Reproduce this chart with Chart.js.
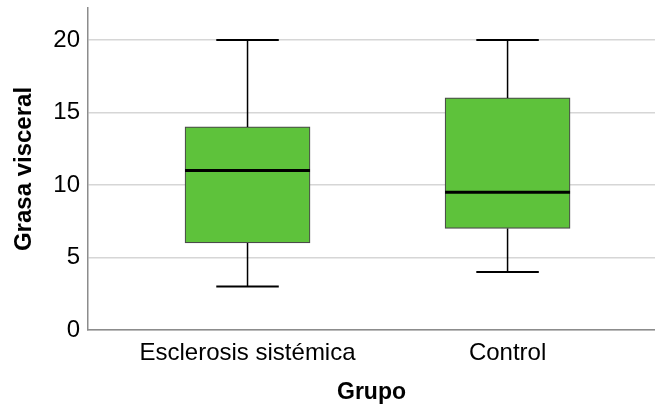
<!DOCTYPE html>
<html>
<head>
<meta charset="utf-8">
<script src="https://cdn.jsdelivr.net/npm/chart.js@4.4.1/dist/chart.umd.min.js"></script>
<style>
  html, body { margin: 0; padding: 0; background: #ffffff; }
  #wrap { width: 655px; height: 412px; }
</style>
</head>
<body>
<div id="wrap"><canvas id="c" width="655" height="412"></canvas></div>
<script>
// Group labels and their position on the horizontal axis
const categories = ['Esclerosis sistémica', 'Control'];
const positions = [1, 2];

// Five-number summaries of visceral fat per group
const minimums  = [3, 4];
const lowerQuartiles = [6, 7];
const medians   = [11, 9.5];
const upperQuartiles = [14, 16];
const maximums  = [20, 20];

// Value axis ticks
const yTicks = [0, 5, 10, 15, 20];

const boxFill = '#5ec23b';
const FONT = 'Liberation Sans, Arial, sans-serif';

// Whiskers, caps and median lines drawn on top of the floating bars
const boxplotExtras = {
  id: 'boxplotExtras',
  afterDatasetsDraw(chart) {
    const ctx = chart.ctx;
    const xs = chart.scales.x, ys = chart.scales.y;
    const meta = chart.getDatasetMeta(0);
    ctx.save();
    ctx.strokeStyle = '#000';
    positions.forEach((p, i) => {
      const cx = xs.getPixelForValue(p);
      const bar = meta.data[i];
      const half = bar.width / 2;
      const capHalf = half * 0.5;
      const yMin = ys.getPixelForValue(minimums[i]);
      const yQ1 = ys.getPixelForValue(lowerQuartiles[i]);
      const yMed = ys.getPixelForValue(medians[i]);
      const yQ3 = ys.getPixelForValue(upperQuartiles[i]);
      const yMax = ys.getPixelForValue(maximums[i]);
      // whisker stems
      ctx.lineWidth = 1.5;
      ctx.beginPath();
      ctx.moveTo(cx, yQ3); ctx.lineTo(cx, yMax);
      ctx.moveTo(cx, yQ1); ctx.lineTo(cx, yMin);
      ctx.stroke();
      // caps
      ctx.lineWidth = 2;
      ctx.beginPath();
      ctx.moveTo(cx - capHalf, yMax); ctx.lineTo(cx + capHalf, yMax);
      ctx.moveTo(cx - capHalf, yMin); ctx.lineTo(cx + capHalf, yMin);
      ctx.stroke();
      // median
      ctx.lineWidth = 3;
      ctx.beginPath();
      ctx.moveTo(cx - half, yMed); ctx.lineTo(cx + half, yMed);
      ctx.stroke();
    });
    ctx.restore();
  }
};

new Chart(document.getElementById('c'), {
  type: 'bar',
  data: {
    datasets: [{
      data: positions.map((p, i) => ({ x: p, y: [lowerQuartiles[i], upperQuartiles[i]] })),
      backgroundColor: boxFill,
      borderColor: '#4a4a4a',
      borderWidth: 1.2,
      borderSkipped: false,
      barThickness: 125
    }]
  },
  options: {
    responsive: false,
    animation: false,
    layout: { padding: { left: 0, right: 0, top: 8, bottom: 0 } },
    plugins: { legend: { display: false }, tooltip: { enabled: false } },
    scales: {
      x: {
        type: 'linear',
        offset: false,
        min: 0.3865,
        max: 2.567,
        afterBuildTicks(s) { s.ticks = positions.map(v => ({ value: v })); },
        afterFit(s) { s.height = 82; s.paddingLeft = 0; s.paddingRight = 0; },
        grid: { display: false, drawTicks: false, offset: false },
        border: { display: true, color: '#8c8c8c', width: 1.5 },
        ticks: {
          color: '#000',
          font: { family: FONT, size: 24 },
          padding: 9,
          maxRotation: 0,
          callback: (v) => categories[positions.indexOf(v)]
        },
        title: {
          display: true,
          text: 'Grupo',
          color: '#000',
          font: { family: FONT, size: 23, weight: 'bold' },
          padding: { top: 12, bottom: 6 }
        }
      },
      y: {
        min: 0,
        max: 22.2,
        afterBuildTicks(s) { s.ticks = yTicks.map(v => ({ value: v })); },
        afterFit(s) { s.width = 88; s.paddingTop = 0; s.paddingBottom = 0; },
        grid: { color: '#d6d6d6', lineWidth: 1.5, drawTicks: false },
        border: { display: true, color: '#8c8c8c', width: 1.5 },
        ticks: {
          color: '#000',
          font: { family: FONT, size: 24 },
          padding: 8
        },
        title: {
          display: true,
          text: 'Grasa visceral',
          color: '#000',
          font: { family: FONT, size: 24, weight: 'bold' },
          padding: { top: 10, bottom: 0 }
        }
      }
    }
  },
  plugins: [boxplotExtras]
});
</script>
</body>
</html>
